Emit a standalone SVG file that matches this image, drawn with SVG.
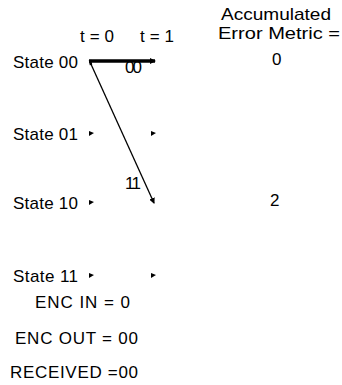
<svg xmlns="http://www.w3.org/2000/svg" width="342" height="385" viewBox="0 0 342 385">
<style>
text{font-family:"Liberation Sans",Arial,sans-serif;font-size:17px;fill:#000}
.dot{fill:#000}
</style>
<defs>
<marker id="ah" markerWidth="6" markerHeight="6" refX="5" refY="3" orient="auto" markerUnits="userSpaceOnUse">
<path d="M0,0 L6,3 L0,6 z" fill="#000"/>
</marker>
</defs>
<rect width="342" height="385" fill="#fff"/>
<g id="header">
<text x="221" y="20" textLength="110" lengthAdjust="spacingAndGlyphs">Accumulated</text>
<text x="218" y="39" textLength="122" lengthAdjust="spacingAndGlyphs">Error Metric =</text>
<text x="80" y="42" textLength="34">t = 0</text>
<text x="140" y="42" textLength="34">t = 1</text>
</g>
<g id="state00"><text x="13" y="68" textLength="65">State 00</text></g>
<g id="state01"><text x="13" y="140" textLength="65">State 01</text><path class="dot" d="M89,131 L94,133 L89,136 z"/><path class="dot" d="M151,131 L156,133 L151,136 z"/></g>
<g id="state10"><text x="13" y="209" textLength="65">State 10</text><path class="dot" d="M89,200 L94,202 L89,205 z"/></g>
<g id="state11"><text x="13" y="282" textLength="65">State 11</text><path class="dot" d="M89,273 L94,275 L89,278 z"/><path class="dot" d="M151,273 L156,275 L151,278 z"/></g>
<g id="connectors">
<line x1="89" y1="61" x2="155" y2="61" stroke="#000" stroke-width="3.5" marker-end="url(#ah)"/>
<line x1="90" y1="60" x2="91" y2="65" stroke="#000" stroke-width="2.5"/>
<line x1="90" y1="62" x2="154" y2="203" stroke="#000" stroke-width="1.3" marker-end="url(#ah)"/>
<text x="125" y="73" textLength="17">00</text>
<text x="125" y="189" textLength="16">11</text>
</g>
<g id="metrics">
<text x="272" y="65">0</text>
<text x="270" y="206">2</text>
</g>
<g id="footer">
<text x="35" y="308" textLength="95">ENC IN = 0</text>
<text x="15" y="344" textLength="123">ENC OUT = 00</text>
<text x="10" y="378" textLength="128">RECEIVED =00</text>
</g>
</svg>
